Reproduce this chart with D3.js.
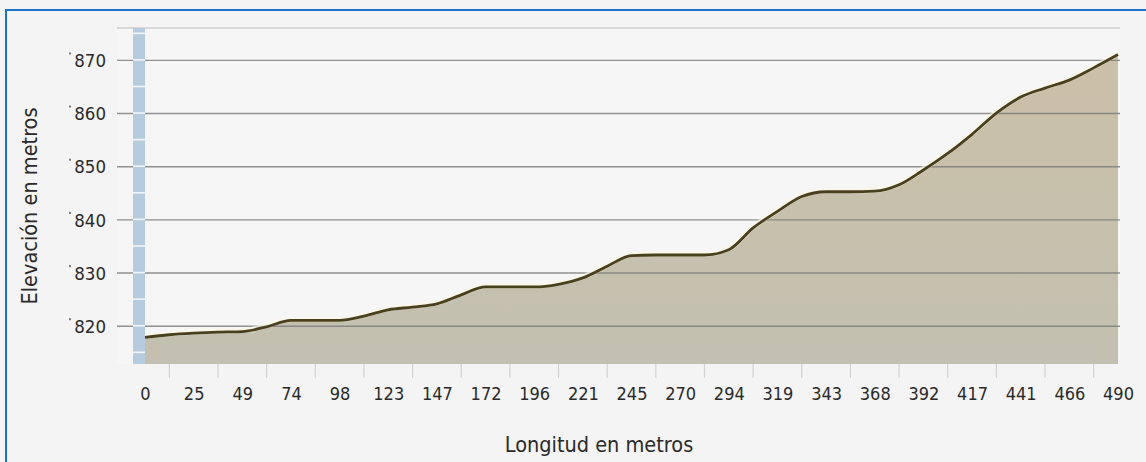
<!DOCTYPE html>
<html>
<head>
<meta charset="utf-8">
<script src="https://cdn.jsdelivr.net/npm/d3@7"></script>
<style>
  html, body { margin: 0; padding: 0; background: #f4f4f4; }
  svg { display: block; }
  .lbl { font-family: "DejaVu Sans Condensed", "DejaVu Sans", sans-serif; font-stretch: condensed; fill: #2a2a2a; }
</style>
</head>
<body>
<svg id="chart" width="1146" height="462"></svg>
<script>
// Elevation profile samples (distance in metres, elevation in metres)
const distances = [0, 12.25, 24.5, 36.75, 49, 61.25, 73.5, 85.75, 98, 110.25,
  122.5, 134.75, 147, 159.25, 171.5, 183.75, 196, 208.25, 220.5, 232.75,
  245, 257.25, 269.5, 281.75, 294, 306.25, 318.5, 330.75, 343, 355.25,
  367.5, 379.75, 392, 404.25, 416.5, 428.75, 441, 453.25, 465.5, 477.75, 490];
const elevations = [817.8, 818.3, 818.6, 818.8, 818.9, 819.8, 821.0, 821.0, 821.0, 821.8,
  823.0, 823.5, 824.1, 825.8, 827.3, 827.3, 827.3, 827.8, 829.0, 831.2,
  833.2, 833.3, 833.3, 833.3, 834.3, 838.4, 841.5, 844.3, 845.2, 845.2,
  845.3, 846.5, 849.3, 852.4, 856.0, 860.0, 863.0, 864.7, 866.2, 868.5, 871.0];

// Axis ticks
const xTickValues = [0, 24.5, 49, 73.5, 98, 122.5, 147, 171.5, 196, 220.5, 245,
  269.5, 294, 318.5, 343, 367.5, 392, 416.5, 441, 465.5, 490];
const xTickLabels = ["0", "25", "49", "74", "98", "123", "147", "172", "196", "221", "245",
  "270", "294", "319", "343", "368", "392", "417", "441", "466", "490"];
const yTickValues = [820, 830, 840, 850, 860, 870];
const yTickLabels = ["820", "830", "840", "850", "860", "870"];

const svg = d3.select("#chart");
const W = 1146, H = 462;

const plot = { left: 145, right: 1118, top: 28, bottom: 364 };
const x = d3.scaleLinear().domain([0, 490]).range([plot.left, plot.right]);
const y = d3.scaleLinear().domain([812.8, 876]).range([plot.bottom, plot.top]);

const data = distances.map((d, i) => ({ d, e: elevations[i] }));

// page background and plot panel
svg.append("rect").attr("width", W).attr("height", H).attr("fill", "#f4f4f4");
svg.append("rect").attr("x", 117).attr("y", plot.top).attr("width", plot.right + 2 - 117)
  .attr("height", plot.bottom - plot.top).attr("fill", "#f6f6f6");

// fill gradient
const defs = svg.append("defs");
const grad = defs.append("linearGradient").attr("id", "fillGrad")
  .attr("x1", 0).attr("y1", 0).attr("x2", 0).attr("y2", 1);
grad.append("stop").attr("offset", "0%").attr("stop-color", "#cbc0a7");
grad.append("stop").attr("offset", "100%").attr("stop-color", "#c3c0b1");

const curve = d3.curveMonotoneX;

// area under the profile
svg.append("path").datum(data)
  .attr("fill", "url(#fillGrad)")
  .attr("d", d3.area().x(p => x(p.d)).y0(plot.bottom).y1(p => y(p.e)).curve(curve));

// horizontal gridlines
const grid = svg.append("g").attr("transform", `translate(${plot.right + 2},0)`)
  .call(d3.axisLeft(y).tickValues(yTickValues).tickSize(plot.right + 2 - 117).tickFormat(""));
grid.select(".domain").remove();
grid.selectAll(".tick line").attr("stroke", "#7e7e7e").attr("stroke-width", 1.4).attr("opacity", 0.85);

// top frame line
svg.append("line").attr("x1", 117).attr("x2", plot.right + 2)
  .attr("y1", plot.top).attr("y2", plot.top)
  .attr("stroke", "#cfcfcf").attr("stroke-width", 1.5);

// profile line with a light halo
const line = d3.line().x(p => x(p.d)).y(p => y(p.e)).curve(curve);
svg.append("path").datum(data).attr("fill", "none")
  .attr("stroke", "#fbf6e6").attr("stroke-width", 5).attr("stroke-opacity", 0.7)
  .attr("transform", "translate(0,-1)").attr("d", line);
svg.append("path").datum(data).attr("fill", "none")
  .attr("stroke", "#4a3f1d").attr("stroke-width", 2.8)
  .attr("stroke-linejoin", "round").attr("d", line);

// vertical axis bar with white ticks every 5 m
svg.append("rect").attr("x", 133).attr("y", plot.top).attr("width", 12)
  .attr("height", plot.bottom - plot.top).attr("fill", "#b7cbde");
const minor = d3.range(815, 876, 5);
svg.append("g").selectAll("line").data(minor).join("line")
  .attr("x1", 133).attr("x2", 145)
  .attr("y1", v => y(v)).attr("y2", v => y(v))
  .attr("stroke", "#f2f6fa").attr("stroke-width", 1.6);

// y axis labels
const yAxis = svg.append("g").attr("transform", "translate(106,0)")
  .call(d3.axisLeft(y).tickValues(yTickValues).tickSize(0).tickPadding(0)
    .tickFormat((v, i) => yTickLabels[i]));
yAxis.select(".domain").remove();
yAxis.selectAll(".tick text").attr("class", "lbl").attr("font-size", 18.5)
  .attr("dy", "0.36em");
yAxis.selectAll(".tick").append("rect")
  .attr("x", -37).attr("y", -8).attr("width", 2).attr("height", 2).attr("fill", "#777");

// x axis ticks at midpoints and labels
const mids = d3.range(0, 20).map(i => (xTickValues[i] + xTickValues[i + 1]) / 2);
svg.append("g").selectAll("line").data(mids).join("line")
  .attr("x1", d => x(d)).attr("x2", d => x(d))
  .attr("y1", plot.bottom).attr("y2", plot.bottom + 14)
  .attr("stroke", "#d2d2d2").attr("stroke-width", 1.2);

const xAxis = svg.append("g").attr("transform", `translate(0,${plot.bottom})`)
  .call(d3.axisBottom(x).tickValues(xTickValues).tickSize(0).tickPadding(0)
    .tickFormat((v, i) => xTickLabels[i]));
xAxis.select(".domain").remove();
xAxis.selectAll(".tick text").attr("class", "lbl").attr("font-size", 18)
  .attr("dy", null).attr("y", 36);

// axis titles
svg.append("text").attr("class", "lbl").attr("font-size", 21.5)
  .attr("x", 599).attr("y", 452).attr("text-anchor", "middle")
  .text("Longitud en metros");
svg.append("text").attr("class", "lbl").attr("font-size", 21.5)
  .attr("transform", "translate(37,206) rotate(-90)").attr("text-anchor", "middle")
  .text("Elevación en metros");

// outer frame
svg.append("line").attr("x1", 6).attr("x2", W).attr("y1", 10).attr("y2", 10)
  .attr("stroke", "#1a74c9").attr("stroke-width", 2);
svg.append("line").attr("x1", 6).attr("x2", 6).attr("y1", 9).attr("y2", H)
  .attr("stroke", "#1a74c9").attr("stroke-width", 2);
</script>
</body>
</html>
